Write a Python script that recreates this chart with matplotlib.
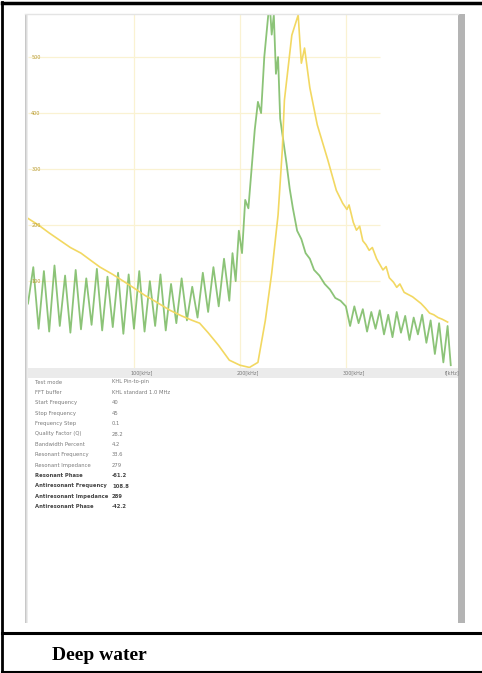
import numpy as np
import matplotlib.pyplot as plt
from matplotlib.patches import Rectangle
from matplotlib.lines import Line2D

# frequency sweep (x in kHz-ish units, y in display units)
green_x = [0, 5, 10, 15, 20, 25, 30, 35, 40, 45, 50, 55, 60, 65, 70, 75, 80, 85, 90, 95,
           100, 105, 110, 115, 120, 125, 130, 135, 140, 145, 150, 155, 160, 165, 170, 175,
           180, 185, 190, 193, 196, 199, 202, 205, 208, 211, 214, 217, 220, 223, 226, 228,
           230, 232, 234, 236, 238, 241, 244, 247, 250, 254, 258, 262, 266, 270, 275, 280,
           285, 290, 295, 300, 304, 308, 312, 316, 320, 324, 328, 332, 336, 340, 344, 348,
           352, 356, 360, 364, 368, 372, 376, 380, 384, 388, 392, 396, 399]
green_y = [60, 125, 15, 118, 10, 128, 20, 110, 8, 120, 14, 105, 22, 122, 12, 108, 18, 115, 6, 112,
           15, 118, 10, 100, 20, 112, 12, 95, 25, 105, 30, 90, 35, 115, 45, 125,
           55, 140, 65, 150, 100, 190, 150, 245, 230, 300, 370, 420, 400, 500, 560, 600,
           540, 575, 470, 500, 390, 350, 310, 265, 230, 190, 175, 150, 140, 120, 110, 95,
           85, 70, 65, 55, 20, 55, 25, 50, 10, 45, 15, 48, 5, 40, 0, 45,
           8, 38, -5, 35, 5, 40, -10, 30, -30, 25, -45, 20, -50]

yellow_x = [0, 10, 20, 30, 40, 50, 60, 68, 80, 90, 99, 110, 120, 134, 145, 155, 162, 170, 180,
            190, 200, 209, 217, 224, 230, 236, 240, 242, 249, 255, 256.5, 258, 261, 266, 273,
            283, 291, 297, 301, 303, 307, 310, 313, 316, 319, 322, 325, 329, 332, 335, 338,
            341, 345, 348, 351, 355, 359, 363, 367, 371, 375, 379, 383, 387, 391, 396]
yellow_y = [212, 200, 186, 173, 160, 150, 136, 125, 112, 100, 89, 75, 64, 48, 38, 30, 25, 8, -15,
            -41, -50, -54, -45, 30, 114, 218, 334, 423, 539, 575, 530, 489, 516, 445, 379,
            316, 262, 239, 228, 236, 205, 191, 198, 172, 165, 155, 160, 140, 130, 120, 126,
            106, 98, 89, 95, 80, 76, 72, 66, 60, 52, 43, 40, 35, 32, 27]

ytick_vals = [500, 400, 300, 200, 100]
xtick_vals = [100, 200, 300, 400]
xtick_labels = ["100[kHz]", "200[kHz]", "300[kHz]", "f[kHz]"]

row_names = ["Test mode", "FFT buffer", "Start Frequency", "Stop Frequency", "Frequency Step",
             "Quality Factor (Q)", "Bandwidth Percent", "Resonant Frequency",
             "Resonant Impedance", "Resonant Phase", "Antiresonant Frequency",
             "Antiresonant Impedance", "Antiresonant Phase"]
row_values = ["KHL Pin-to-pin", "KHL standard 1.0 MHz", "40", "45", "0.1", "28.2", "4.2",
              "33.6", "279", "-61.2", "108.8", "289", "-42.2"]

W, H = 482, 673


def fx(px):
    return px / W


def fy(py):
    return 1 - py / H


fig = plt.figure(figsize=(4.82, 6.73), dpi=100)
fig.patch.set_facecolor("white")

# panel shading: left edge and right grey bar
for i, c in enumerate(["#c8c8c8", "#dcdcdc", "#ececec"]):
    fig.add_artist(Rectangle((fx(25 + i), fy(623)), 1 / W, (623 - 14) / H,
                             transform=fig.transFigure, color=c, lw=0))
fig.add_artist(Rectangle((fx(458), fy(623)), 7 / W, (623 - 14) / H,
                         transform=fig.transFigure, color="#b4b4b4", lw=0))
fig.add_artist(Line2D([fx(25), fx(458)], [fy(14), fy(14)], color="#e4e4e4", lw=1))

# x axis strip
fig.add_artist(Rectangle((fx(28), fy(378)), (458 - 28) / W, 10 / H,
                         transform=fig.transFigure, color="#ebebeb", lw=0))

ax = fig.add_axes([fx(28), fy(368), (455 - 28) / W, (368 - 15) / H])
ax.set_xlim(0, 403)
ax.set_ylim(-55, 575)
for s in ax.spines.values():
    s.set_visible(False)
ax.set_xticks([])
ax.set_yticks([])

for v in xtick_vals[:3]:
    ax.axvline(v, color="#faf2d2", lw=0.9, zorder=0)
for v in ytick_vals:
    ax.hlines(v, 0, 332, color="#faf2d2", lw=0.9, zorder=0)
    ax.text(3, v, str(v), fontsize=3.5, color="#b89a30", va="center", ha="left")

ax.plot(green_x, green_y, color="#6fb556", lw=1.3, alpha=0.8)
ax.plot(yellow_x, yellow_y, color="#f2d862", lw=1.2)

for v, lab in zip(xtick_vals, xtick_labels):
    px = 28 + v * 1.06 + 8
    if v == 400:
        px = 452
    fig.text(fx(px), fy(373), lab, fontsize=3.5, color="#777777", ha="center", va="center")

# parameter table
for i, (n, val) in enumerate(zip(row_names, row_values)):
    py = 382 + i * 10.4
    col = "#444444" if i >= 9 else "#7a7a7a"
    w = "bold" if i >= 9 else "normal"
    fig.text(fx(35), fy(py), n, fontsize=3.8, color=col, va="center", fontweight=w)
    fig.text(fx(112), fy(py), val, fontsize=3.8, color=col, va="center", fontweight=w)

# outer table frame
fig.add_artist(Line2D([fx(2), fx(482)], [fy(3), fy(3)], color="black", lw=2.5))
fig.add_artist(Line2D([fx(2), fx(2)], [fy(2), fy(673)], color="black", lw=2))
fig.add_artist(Line2D([fx(2), fx(482)], [fy(633), fy(633)], color="black", lw=2.2))
fig.add_artist(Line2D([fx(2), fx(482)], [fy(672), fy(672)], color="black", lw=1.5))

fig.text(fx(52), fy(655), "Deep water", fontsize=14, fontweight="bold",
         family="Liberation Serif", va="center", ha="left")

plt.savefig("out.png", dpi=100)
